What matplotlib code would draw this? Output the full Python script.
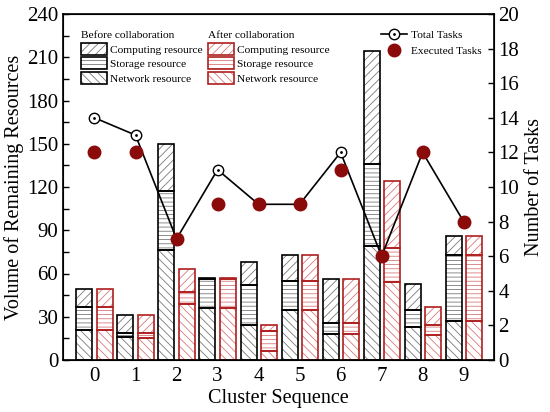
import matplotlib
matplotlib.use("Agg")
import matplotlib.pyplot as plt
from matplotlib.patches import Patch
from matplotlib.lines import Line2D
from matplotlib.legend_handler import HandlerTuple
from matplotlib.ticker import MultipleLocator
import numpy as np

plt.rcParams['font.family'] = ['Liberation Serif', 'DejaVu Serif']
plt.rcParams['hatch.linewidth'] = 0.6

clusters = [0, 1, 2, 3, 4, 5, 6, 7, 8, 9]

before_network = [21, 16, 76, 36, 24, 35, 18, 79, 23, 27]
before_storage = [16, 3, 41, 20, 28, 20, 8, 57, 12, 46]
before_computing = [12, 12, 33, 1, 16, 18, 30, 78, 18, 13]

after_network = [21, 15, 39, 36, 6, 35, 18, 54, 17, 27]
after_storage = [16, 4, 8, 20, 14, 20, 8, 24, 7, 46]
after_computing = [12, 12, 16, 1, 4, 18, 30, 46, 13, 13]

total_tasks = [14, 13, 7, 11, 9, 9, 12, 6, 12, 8]
executed_tasks = [12, 12, 7, 9, 9, 9, 11, 6, 12, 8]

RED = '#AE1F1F'
RED_H = '#D87A7A'
BLK_H = '#7A7A7A'
DARKRED = '#8B0A0A'
HATCH_C, HATCH_S, HATCH_N = '////', '----', '\\\\\\\\'

fig = plt.figure(figsize=(5.5, 4.12), dpi=100)
ax = fig.add_axes([62.5/550, 52/412, (494-62.5)/550, (360-14)/412])

x = np.arange(len(clusters))
w = 0.39
off = 0.245

def seg(xpos, h, bottom, ec, hc, hatch):
    ax.bar(xpos, h, w, bottom=bottom, color='white', edgecolor=hc, hatch=hatch, lw=0, zorder=2)
    ax.bar(xpos, h, w, bottom=bottom, fill=False, edgecolor=ec, lw=1.2, zorder=2.5)

def stack(xpos, net, sto, comp, ec, hc):
    net = np.array(net); sto = np.array(sto); comp = np.array(comp)
    seg(xpos, net, 0, ec, hc, HATCH_N)
    seg(xpos, sto, net, ec, hc, HATCH_S)
    seg(xpos, comp, net + sto, ec, hc, HATCH_C)

stack(x - off, before_network, before_storage, before_computing, 'black', BLK_H)
stack(x + off, after_network, after_storage, after_computing, RED, RED_H)

ax.set_xlim(-0.78, 9.74)
ax.set_ylim(0, 240)
ax.set_xticks(x)
ax.set_xticklabels([str(c) for c in clusters])
ax.yaxis.set_major_locator(MultipleLocator(30))
ax.yaxis.set_minor_locator(MultipleLocator(15))
ax.tick_params(axis='x', length=0, labelsize=15, pad=5)
ax.tick_params(axis='y', which='both', direction='in', labelsize=15, length=4, width=1, pad=3)
for s in ax.spines.values():
    s.set_linewidth(1.2)
ax.set_xlabel('Cluster Sequence', fontsize=14.5, labelpad=2)
ax.set_ylabel('Volume of Remaining Resources', fontsize=14.5, labelpad=2)

ax2 = ax.twinx()
ax2.set_ylim(0, 20)
ax2.yaxis.set_major_locator(MultipleLocator(2))
ax2.tick_params(axis='y', direction='in', labelsize=15, length=4, width=1, pad=3)
ax2.set_ylabel('Number of Tasks', fontsize=14.5, labelpad=4)
ax2.plot(x, total_tasks, '-', color='black', lw=1.2, marker='o', ms=7.5,
         mfc='white', mec='black', mew=1.0, zorder=3)
ax2.plot(x, total_tasks, ls='none', marker='.', ms=2, color='black', zorder=4)
ax2.plot(x, executed_tasks, ls='none', marker='o', ms=9, color=DARKRED, zorder=5)

# Legends
def lh(ec, hc, hatch):
    return (Patch(facecolor='white', edgecolor=hc, hatch=hatch, lw=0),
            Patch(fill=False, edgecolor=ec, lw=1.2))

h_before = [lh('black', BLK_H, HATCH_C), lh('black', BLK_H, HATCH_S), lh('black', BLK_H, HATCH_N)]
h_after = [lh(RED, RED_H, HATCH_C), lh(RED, RED_H, HATCH_S), lh(RED, RED_H, HATCH_N)]
labels = ['Computing resource', 'Storage resource', 'Network resource']

common = dict(loc='upper left', frameon=False, fontsize=8.2, title_fontsize=8.2,
              handlelength=2.3, handleheight=1.2, labelspacing=0.25,
              handletextpad=0.25, borderpad=0, borderaxespad=0, alignment='left',
              handler_map={tuple: HandlerTuple(ndivide=1, pad=0)})
lg1 = ax2.legend(h_before, labels, title='Before collaboration',
                 bbox_to_anchor=(81/550, 1 - 31/412), bbox_transform=fig.transFigure, **common)
ax2.add_artist(lg1)
lg2 = ax2.legend(h_after, labels, title='After collaboration',
                 bbox_to_anchor=(208/550, 1 - 31/412), bbox_transform=fig.transFigure, **common)
ax2.add_artist(lg2)

h_tot = (Line2D([], [], color='black', lw=1.2, marker='o', ms=7.5, mfc='white', mec='black', mew=1.0),
         Line2D([], [], ls='none', marker='.', ms=2, color='black'))
h_exe = Line2D([], [], ls='none', marker='o', ms=9, color=DARKRED)
lg3 = ax2.legend([h_tot, h_exe], ['Total Tasks', 'Executed Tasks'], loc='upper left',
                 frameon=False, fontsize=8.2, handlelength=2.3, handletextpad=0.3,
                 labelspacing=0.5, borderpad=0, borderaxespad=0,
                 bbox_to_anchor=(381/550, 1 - 30/412), bbox_transform=fig.transFigure)

fig.savefig('out.png', dpi=100)
